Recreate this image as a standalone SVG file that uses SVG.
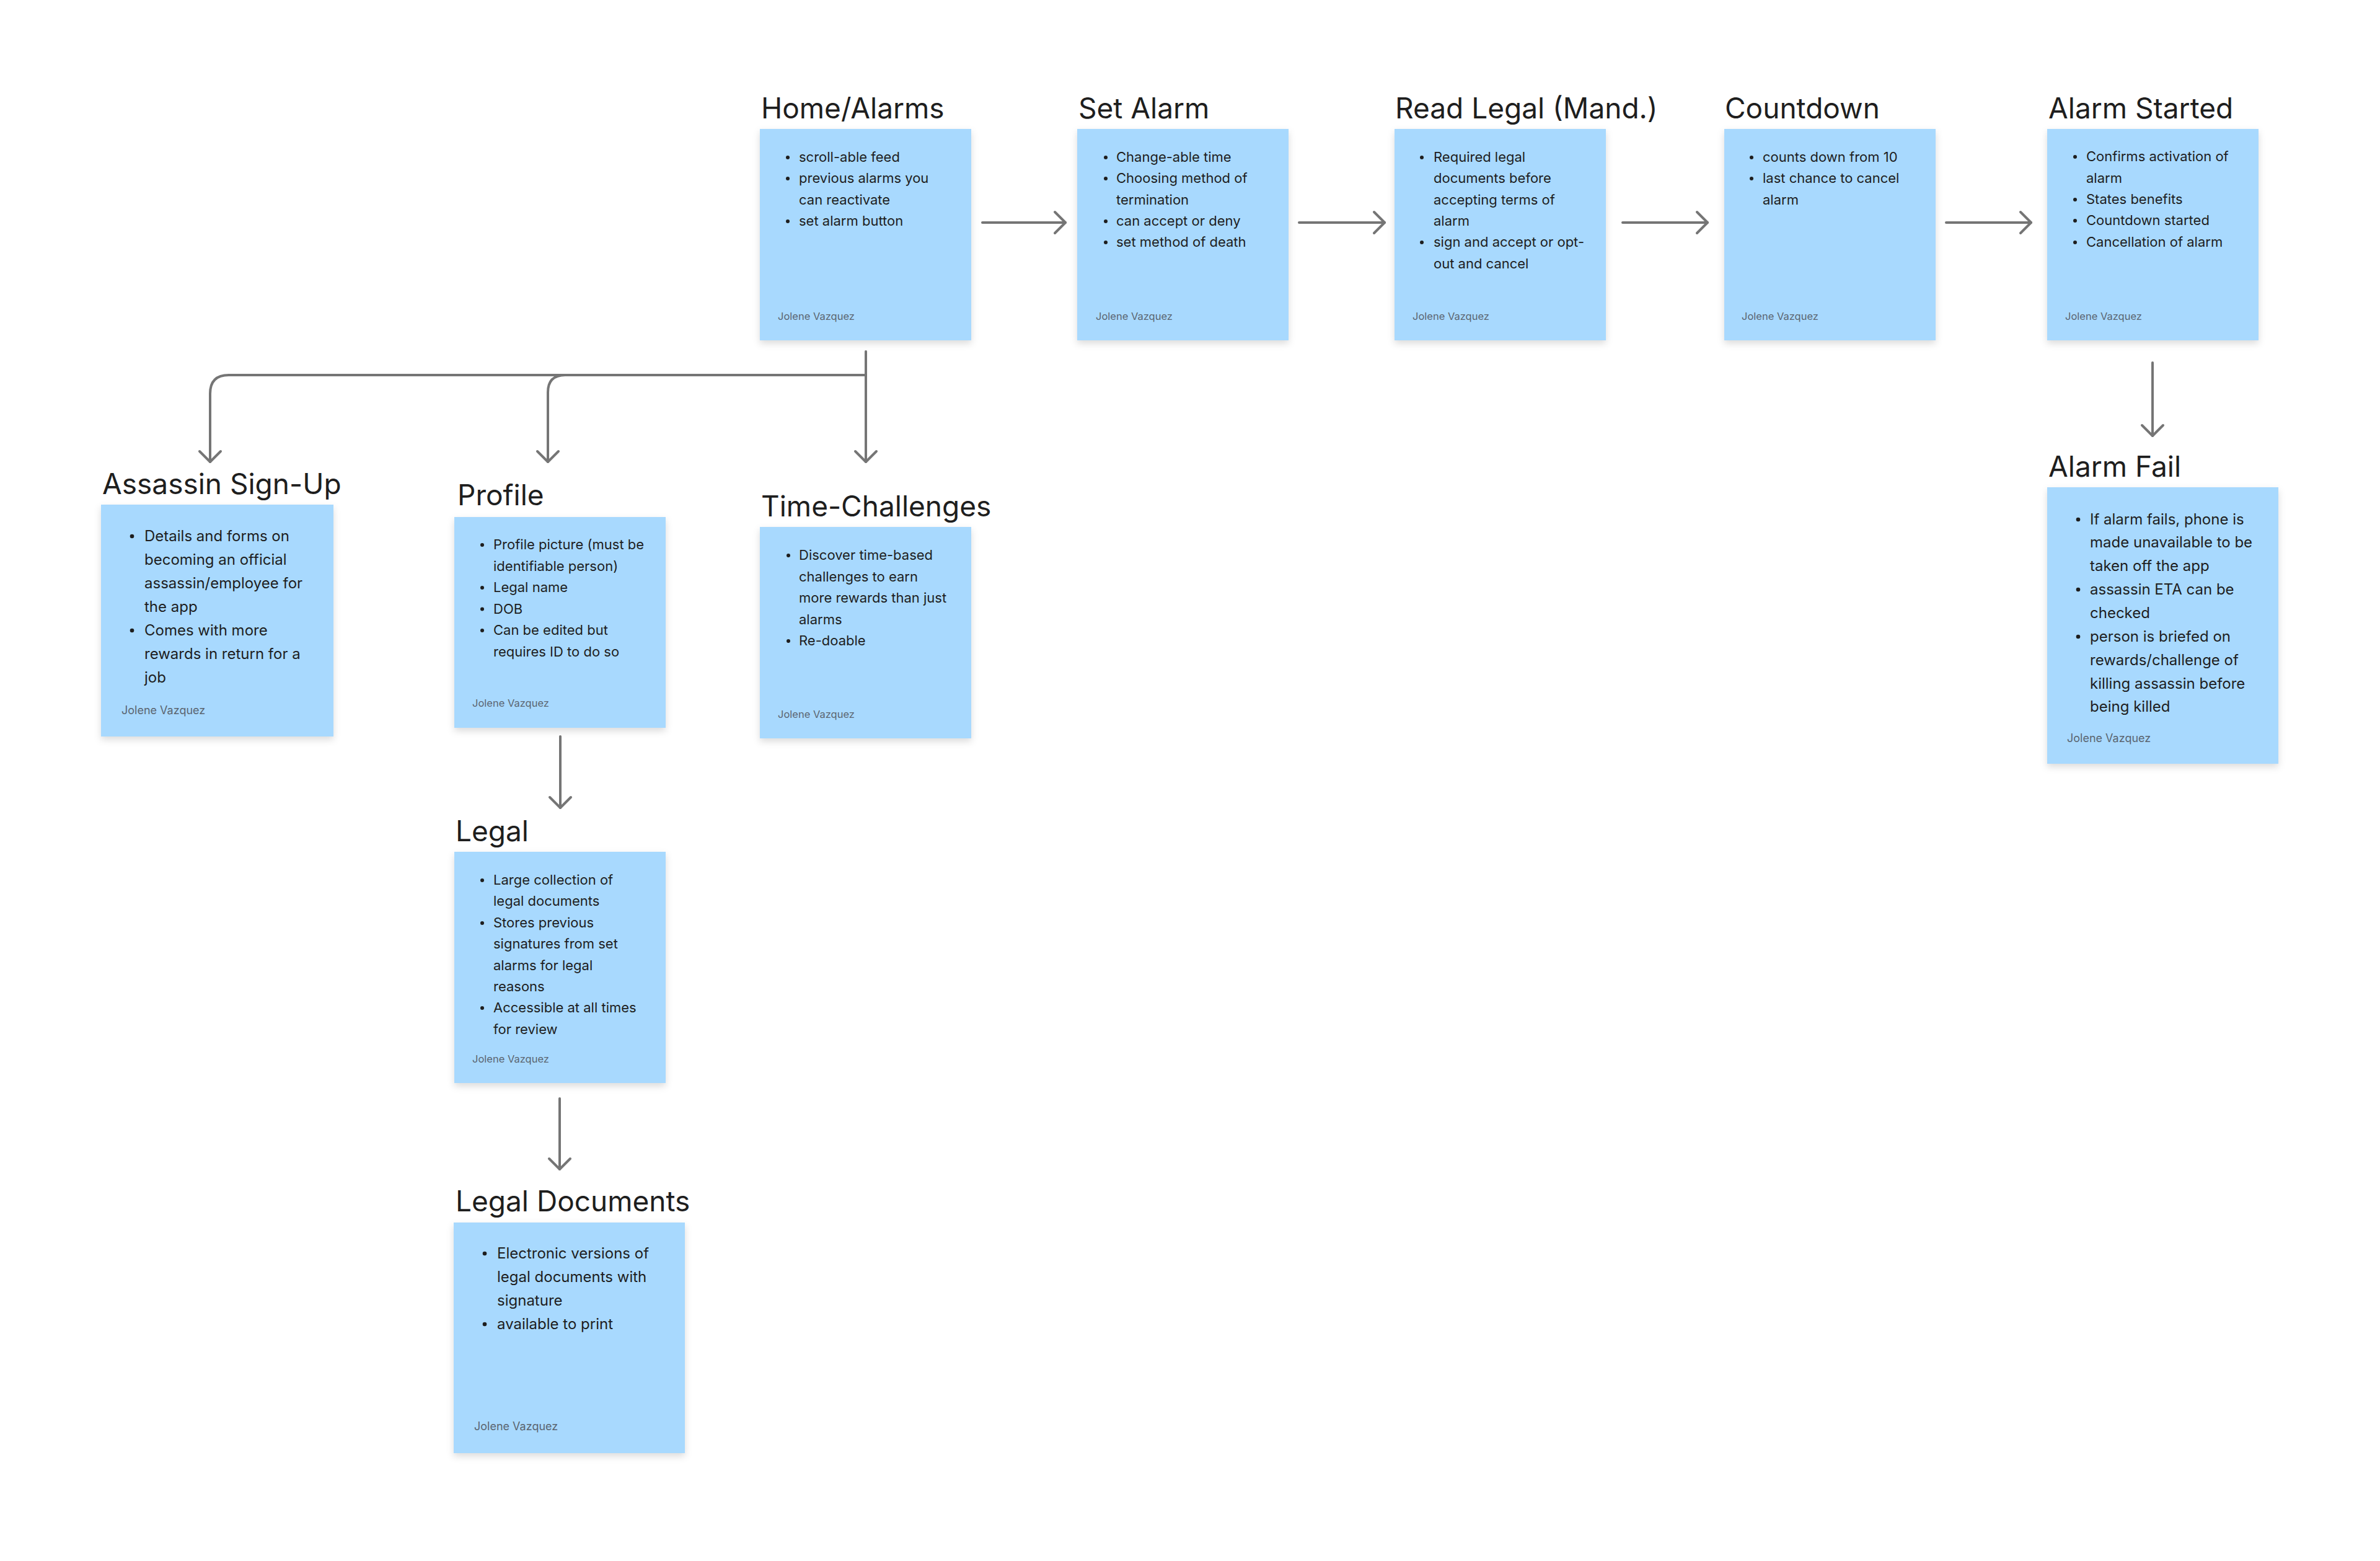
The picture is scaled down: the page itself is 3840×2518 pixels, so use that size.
<svg xmlns="http://www.w3.org/2000/svg" width="3840" height="2518" viewBox="0 0 3840 2518">
<style>
.box{fill:#A8D9FE;filter:url(#sh)}
text{font-family:Inter,"Noto Sans","Liberation Sans",sans-serif}
.t{font-size:46px;fill:#1e1e1e}
.b{font-size:22px;fill:#1e1e1e}
.b2{font-size:24px;fill:#1e1e1e}
.a{font-size:16.5px;fill:#5b6570}
.a2{font-size:18px;fill:#5b6570}
.d{fill:#1e1e1e}
.c{stroke:#757575;stroke-width:4;fill:none;stroke-linecap:round;stroke-linejoin:round}
</style>
<defs>
<filter id="sh" x="-10%" y="-10%" width="120%" height="130%">
<feDropShadow dx="0" dy="5" stdDeviation="6" flood-color="#000" flood-opacity="0.14"/>
</filter>
<marker id="ah" markerUnits="userSpaceOnUse" markerWidth="44" markerHeight="44" viewBox="-22 -22 44 44" refX="0" refY="0" orient="auto" overflow="visible">
<path d="M-17,-17 L0,0 L-17,17" fill="none" stroke="#757575" stroke-width="4" stroke-linecap="round" stroke-linejoin="round"/>
</marker>
</defs>
<rect width="3840" height="2518" fill="#ffffff"/>

<g id="connectors">
<line class="c" x1="1585" y1="359" x2="1719" y2="359" marker-end="url(#ah)"/>
<line class="c" x1="2096" y1="359" x2="2234" y2="359" marker-end="url(#ah)"/>
<line class="c" x1="2618" y1="359" x2="2755" y2="359" marker-end="url(#ah)"/>
<line class="c" x1="3140" y1="359" x2="3277" y2="359" marker-end="url(#ah)"/>
<line class="c" x1="3473" y1="585" x2="3473" y2="703" marker-end="url(#ah)"/>
<line class="c" x1="1397" y1="567" x2="1397" y2="745" marker-end="url(#ah)"/>
<path class="c" d="M1397,605 H369 Q339,605 339,635 V745" marker-end="url(#ah)"/>
<path class="c" d="M1397,605 H912 Q884,605 884,633 V745" marker-end="url(#ah)"/>
<line class="c" x1="904" y1="1188" x2="904" y2="1303" marker-end="url(#ah)"/>
<line class="c" x1="903" y1="1772" x2="903" y2="1886" marker-end="url(#ah)"/>
</g>

<g id="home-alarms">
<text class="t" x="1228" y="191">Home/Alarms</text>
<rect class="box" x="1226" y="208" width="341" height="341"/>
<circle class="d" cx="1271" cy="254" r="3"/><text class="b" x="1289" y="261">scroll-able feed</text>
<circle class="d" cx="1271" cy="288" r="3"/><text class="b" x="1289" y="295">previous alarms you</text>
<text class="b" x="1289" y="330">can reactivate</text>
<circle class="d" cx="1271" cy="357" r="3"/><text class="b" x="1289" y="364">set alarm button</text>
<text class="a" x="1255" y="516">Jolene Vazquez</text>
</g>

<g id="set-alarm">
<text class="t" x="1740" y="191">Set Alarm</text>
<rect class="box" x="1738" y="208" width="341" height="341"/>
<circle class="d" cx="1784" cy="254" r="3"/><text class="b" x="1801" y="261">Change-able time</text>
<circle class="d" cx="1784" cy="288" r="3"/><text class="b" x="1801" y="295">Choosing method of</text>
<text class="b" x="1801" y="330">termination</text>
<circle class="d" cx="1784" cy="357" r="3"/><text class="b" x="1801" y="364">can accept or deny</text>
<circle class="d" cx="1784" cy="391" r="3"/><text class="b" x="1801" y="398">set method of death</text>
<text class="a" x="1768" y="516">Jolene Vazquez</text>
</g>

<g id="read-legal">
<text class="t" x="2251" y="191">Read Legal (Mand.)</text>
<rect class="box" x="2250" y="208" width="341" height="341"/>
<circle class="d" cx="2294" cy="254" r="3"/><text class="b" x="2313" y="261">Required legal</text>
<text class="b" x="2313" y="295">documents before</text>
<text class="b" x="2313" y="330">accepting terms of</text>
<text class="b" x="2313" y="364">alarm</text>
<circle class="d" cx="2294" cy="391" r="3"/><text class="b" x="2313" y="398">sign and accept or opt-</text>
<text class="b" x="2313" y="433">out and cancel</text>
<text class="a" x="2279" y="516">Jolene Vazquez</text>
</g>

<g id="countdown">
<text class="t" x="2783" y="191">Countdown</text>
<rect class="box" x="2782" y="208" width="341" height="341"/>
<circle class="d" cx="2826" cy="254" r="3"/><text class="b" x="2844" y="261">counts down from 10</text>
<circle class="d" cx="2826" cy="288" r="3"/><text class="b" x="2844" y="295">last chance to cancel</text>
<text class="b" x="2844" y="330">alarm</text>
<text class="a" x="2810" y="516">Jolene Vazquez</text>
</g>

<g id="alarm-started">
<text class="t" x="3305" y="191">Alarm Started</text>
<rect class="box" x="3303" y="208" width="341" height="341"/>
<circle class="d" cx="3348" cy="253" r="3"/><text class="b" x="3366" y="260">Confirms activation of</text>
<text class="b" x="3366" y="295">alarm</text>
<circle class="d" cx="3348" cy="322" r="3"/><text class="b" x="3366" y="329">States benefits</text>
<circle class="d" cx="3348" cy="356" r="3"/><text class="b" x="3366" y="363">Countdown started</text>
<circle class="d" cx="3348" cy="391" r="3"/><text class="b" x="3366" y="398">Cancellation of alarm</text>
<text class="a" x="3332" y="516">Jolene Vazquez</text>
</g>

<g id="alarm-fail">
<text class="t" x="3305" y="769">Alarm Fail</text>
<rect class="box" x="3303" y="786" width="373" height="446"/>
<circle class="d" cx="3353" cy="838" r="3.3"/><text class="b2" x="3372" y="846">If alarm fails, phone is</text>
<text class="b2" x="3372" y="883">made unavailable to be</text>
<text class="b2" x="3372" y="921">taken off the app</text>
<circle class="d" cx="3353" cy="951" r="3.3"/><text class="b2" x="3372" y="959">assassin ETA can be</text>
<text class="b2" x="3372" y="997">checked</text>
<circle class="d" cx="3353" cy="1027" r="3.3"/><text class="b2" x="3372" y="1035">person is briefed on</text>
<text class="b2" x="3372" y="1073">rewards/challenge of</text>
<text class="b2" x="3372" y="1111">killing assassin before</text>
<text class="b2" x="3372" y="1148">being killed</text>
<text class="a2" x="3335" y="1197">Jolene Vazquez</text>
</g>

<g id="assassin-sign-up">
<text class="t" x="165" y="797">Assassin Sign-Up</text>
<rect class="box" x="163" y="814" width="375" height="374"/>
<circle class="d" cx="213" cy="865" r="3.3"/><text class="b2" x="233" y="873">Details and forms on</text>
<text class="b2" x="233" y="911">becoming an official</text>
<text class="b2" x="233" y="949">assassin/employee for</text>
<text class="b2" x="233" y="987">the app</text>
<circle class="d" cx="213" cy="1017" r="3.3"/><text class="b2" x="233" y="1025">Comes with more</text>
<text class="b2" x="233" y="1063">rewards in return for a</text>
<text class="b2" x="233" y="1101">job</text>
<text class="a2" x="196" y="1152">Jolene Vazquez</text>
</g>

<g id="profile">
<text class="t" x="738" y="815">Profile</text>
<rect class="box" x="733" y="834" width="341" height="340"/>
<circle class="d" cx="778" cy="879" r="3"/><text class="b" x="796" y="886">Profile picture (must be</text>
<text class="b" x="796" y="920.5">identifiable person)</text>
<circle class="d" cx="778" cy="948" r="3"/><text class="b" x="796" y="955">Legal name</text>
<circle class="d" cx="778" cy="982.5" r="3"/><text class="b" x="796" y="989.5">DOB</text>
<circle class="d" cx="778" cy="1017" r="3"/><text class="b" x="796" y="1024">Can be edited but</text>
<text class="b" x="796" y="1058.5">requires ID to do so</text>
<text class="a" x="762" y="1140">Jolene Vazquez</text>
</g>

<g id="time-challenges">
<text class="t" x="1228" y="833">Time-Challenges</text>
<rect class="box" x="1226" y="850" width="341" height="341"/>
<circle class="d" cx="1272" cy="896" r="3"/><text class="b" x="1289" y="903">Discover time-based</text>
<text class="b" x="1289" y="938">challenges to earn</text>
<text class="b" x="1289" y="972">more rewards than just</text>
<text class="b" x="1289" y="1007">alarms</text>
<circle class="d" cx="1272" cy="1034" r="3"/><text class="b" x="1289" y="1041">Re-doable</text>
<text class="a" x="1255" y="1158">Jolene Vazquez</text>
</g>

<g id="legal">
<text class="t" x="735" y="1357">Legal</text>
<rect class="box" x="733" y="1374" width="341" height="373"/>
<circle class="d" cx="778" cy="1420" r="3"/><text class="b" x="796" y="1427">Large collection of</text>
<text class="b" x="796" y="1461">legal documents</text>
<circle class="d" cx="778" cy="1489" r="3"/><text class="b" x="796" y="1496">Stores previous</text>
<text class="b" x="796" y="1530">signatures from set</text>
<text class="b" x="796" y="1565">alarms for legal</text>
<text class="b" x="796" y="1599">reasons</text>
<circle class="d" cx="778" cy="1626" r="3"/><text class="b" x="796" y="1633">Accessible at all times</text>
<text class="b" x="796" y="1668">for review</text>
<text class="a" x="762" y="1714">Jolene Vazquez</text>
</g>

<g id="legal-documents">
<text class="t" x="735" y="1954">Legal Documents</text>
<rect class="box" x="732" y="1972" width="373" height="372"/>
<circle class="d" cx="782" cy="2022" r="3.3"/><text class="b2" x="802" y="2030">Electronic versions of</text>
<text class="b2" x="802" y="2068">legal documents with</text>
<text class="b2" x="802" y="2106">signature</text>
<circle class="d" cx="782" cy="2136" r="3.3"/><text class="b2" x="802" y="2144">available to print</text>
<text class="a2" x="765" y="2307">Jolene Vazquez</text>
</g>
</svg>
